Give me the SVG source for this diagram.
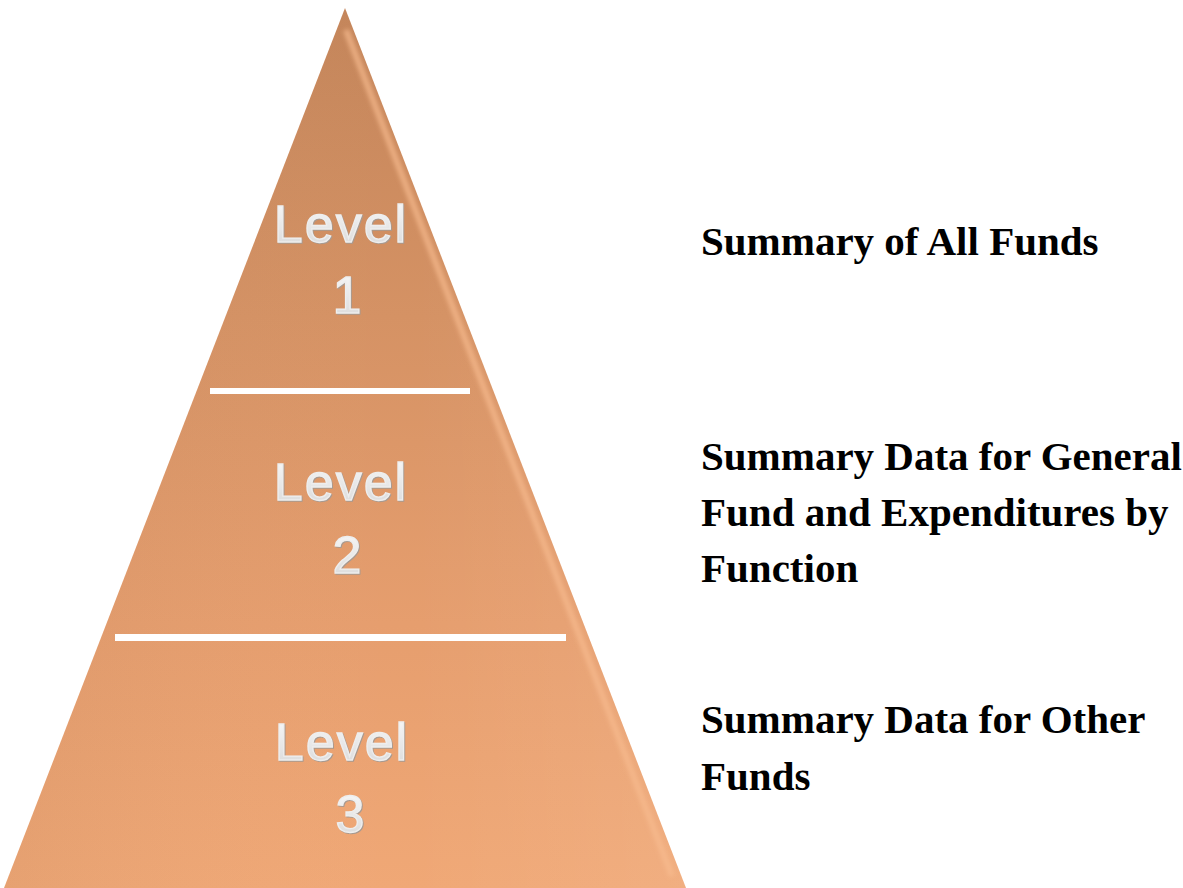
<svg xmlns="http://www.w3.org/2000/svg" width="1183" height="888" viewBox="0 0 1183 888">
  <defs>
    <!-- vertical body shading, darker at the tip -->
    <linearGradient id="bodyV" x1="0" y1="0" x2="0" y2="1">
      <stop offset="0" stop-color="#C4855A"/>
      <stop offset="0.35" stop-color="#D59264"/>
      <stop offset="0.7" stop-color="#E69E6E"/>
      <stop offset="1" stop-color="#F0A876"/>
    </linearGradient>
    <!-- horizontal tint, lighter towards the right face -->
    <linearGradient id="bodyH" x1="0" y1="0" x2="1" y2="0">
      <stop offset="0" stop-color="#000" stop-opacity="0.04"/>
      <stop offset="0.6" stop-color="#fff" stop-opacity="0"/>
      <stop offset="1" stop-color="#fff" stop-opacity="0.08"/>
    </linearGradient>
    <linearGradient id="labelFill" x1="0" y1="0" x2="0" y2="1">
      <stop offset="0" stop-color="#FAFAFA"/>
      <stop offset="1" stop-color="#D8D8D8"/>
    </linearGradient>
    <filter id="soft" x="-10%" y="-10%" width="120%" height="120%">
      <feGaussianBlur stdDeviation="2"/>
    </filter>
    <style>
      .lvl { font-family: "Liberation Sans", Arial, sans-serif; font-size: 52px; text-anchor: middle; letter-spacing: 2px; stroke-width: 1.3px; }
      .lvl-shadow { fill: #A89A90; stroke: #A89A90; }
      .lvl-face { fill: url(#labelFill); stroke: #EEEEEE; }
      .desc { font-family: "Liberation Serif", "Times New Roman", serif; font-weight: bold; font-size: 41px; fill: #000; }
      .divider { fill: #FFFFFF; }
    </style>
  </defs>

  <rect width="1183" height="888" fill="#FFFFFF"/>

  <!-- pyramid body -->
  <g id="pyramid">
    <polygon points="345,8 686,888 4,888" fill="url(#bodyV)"/>
    <polygon points="345,8 686,888 4,888" fill="url(#bodyH)"/>
    <!-- bevel highlight just inside the right edge -->
    <polyline points="346,30 672,876" fill="none" stroke="#F8BC90" stroke-width="6" stroke-opacity="0.7" filter="url(#soft)"/>
    <!-- bevel highlight along the base -->
    <line x1="14" y1="876" x2="672" y2="876" stroke="#F6B487" stroke-width="7" stroke-opacity="0.8" filter="url(#soft)"/>
  </g>

  <!-- tier dividers -->
  <g id="dividers">
    <rect class="divider" x="210" y="388" width="260" height="6"/>
    <rect class="divider" x="115" y="634" width="451" height="7"/>
  </g>

  <g id="level-1">
    <text class="lvl lvl-shadow" x="342" y="243">Level</text>
    <text class="lvl lvl-face" x="341" y="242">Level</text>
    <text class="lvl lvl-shadow" x="349" y="314">1</text>
    <text class="lvl lvl-face" x="348" y="313">1</text>
  </g>

  <g id="level-2">
    <text class="lvl lvl-shadow" x="342" y="501">Level</text>
    <text class="lvl lvl-face" x="341" y="500">Level</text>
    <text class="lvl lvl-shadow" x="349" y="574">2</text>
    <text class="lvl lvl-face" x="348" y="573">2</text>
  </g>

  <g id="level-3">
    <text class="lvl lvl-shadow" x="343" y="761">Level</text>
    <text class="lvl lvl-face" x="342" y="760">Level</text>
    <text class="lvl lvl-shadow" x="352" y="833">3</text>
    <text class="lvl lvl-face" x="351" y="832">3</text>
  </g>

  <g id="desc-1">
    <text class="desc" x="701" y="255">Summary of All Funds</text>
  </g>

  <g id="desc-2">
    <text class="desc" x="701" y="470">Summary Data for General</text>
    <text class="desc" x="701" y="526">Fund and Expenditures by</text>
    <text class="desc" x="701" y="582">Function</text>
  </g>

  <g id="desc-3">
    <text class="desc" x="701" y="733">Summary Data for Other</text>
    <text class="desc" x="701" y="790">Funds</text>
  </g>
</svg>
